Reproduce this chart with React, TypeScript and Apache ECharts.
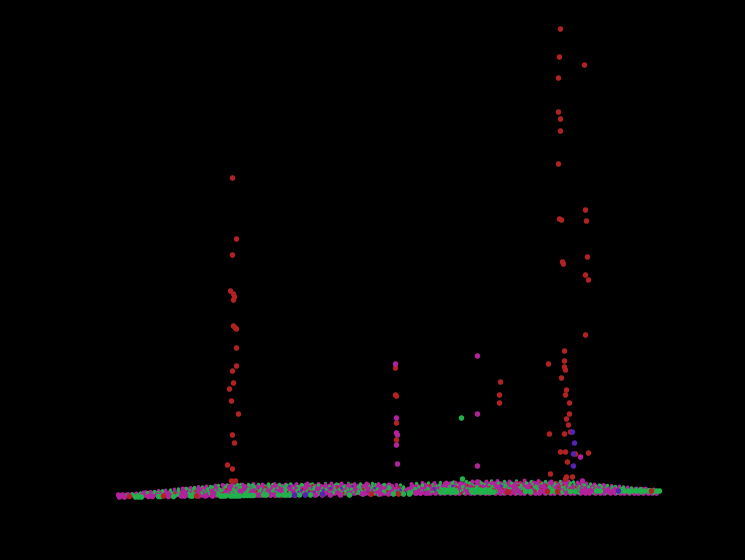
import React, { useEffect, useRef } from "react";
import * as echarts from "echarts";

const RED = "#b22222";
const MAGENTA = "#b2229b";
const GREEN = "#22b24c";
const BLUE = "#5522b2";

// Isolated points, [x, y]
const redPoints = [
  [460,481],[459,453],[484,445],[458,432],[458,398],[460,391],[460,379],[458,346],[459,291],[461,290],[485,300],[486,289],
  [462,248],[463,246],[487,253],[485,235],[488,230],[485,175],[464,159],[448,146],[464,149],[464,143],[465,140],[461,132],
  [466,120],[465,115],[469,107],[469,96],[466,91],[468,85],[449,76],[464,76],[470,78],[460,58],[465,58],[475,56],[488,57],
  [467,48],[450,36],[466,33],[465,31],[472,33],
  [132,332],[136,271],[132,255],[130,219],[133,216],[134,213],[133,210],[133,184],[135,182],[136,181],[136,162],[136,144],
  [132,139],[133,127],[129,121],[131,109],[138,96],[132,75],[134,67],[127,45],[132,41],[131,29],[135,29],
  [295,142],[295,115],[296,114],[296,87],[296,70],
  [400,128],[399,115],[399,107],
];
const magentaPoints = [
  [295,146],[296,92],[296,77],[297,75],[296,65],[297,46],[377,154],[377,96],[377,44],[377,28],[480,53],[482,29],
];
const greenPoints = [[361,92],[362,31]];
const bluePoints = [[472,78],[474,67],[473,56],[473,44]];

// Dots along the lower edge of the dense band, [x, y]
const edgeGreen = [
  [35,13],[38,13],[41,13],[58,13.5],[60,13.5],[73,13.5],[90,14],[92,14],[120,14],[122,14],[125,14],[130,14],[133,14],[136,14],[139,14],
  [144,14.5],[147,14.5],[150,14.5],[153,14.5],[163,15],[166,15],[178,15],[183,15],[186,15],[189,15],[199,15],[210,15],[249,15],[293,16],[303,16],[309,16],
  [310,17],[340,18],[343,18],[346,18],[350,18],[353,18],[356,18],[372,18],[375,18],[378,18],[381,18],[384,18],[387,18],[390,18],[393,18],
  [344,20],[348,20],[352,20],[372,20],[376,20],[380,20],[385,20],[389,20],
  [520,19],[524,19],[528,19],[532,19],[536,19],[540,19],[544,19],[548,19],[552,19],[556,19],[559,19],[500,19],[496,19],[425,18.5],[430,18.5],[450,18.5],[455,18.5],[470,18.5],[475,18.5],
];
const edgeMagenta = [
  [19,13],[24,13],[48,13.5],[52,13.5],[68,13.5],[81,14],[84,14],[98,14],[105,14],[112,14],[142,14.5],[158,15],[170,15],[175,15],[194,15],[215,15],[222,15],[230,15],[240,15],
  [262,16],[270,16],[280,16],[288,16],[315,17],[320,17],[327,17],[400,18.5],[405,18.5],[412,18.5],[418,18.5],[440,18.5],[444,18.5],
  [482,19],[485,19],[490,19],[494,19],[505,19],[508,19],[513,19],[528,19],[533,19],[543,19],
];
const edgeRed = [[29,13.5],[63,14],[96,14],[271,16],[298,16],[408,18],[447,18.5],[457,18.5],[551,19],[407,18]];
const edgeBlue = [[194,15],[205,15],[222,16],[518,19]];

// Dense band, in rows: [y, x values]
const bandBaseRows: [number, number[]][] = [
  [15,[18,22,27,31,35,40,44,48,53,58,62,66,71,75,80,84,88,93,98,102,107,111,116,120,125,130,135,139,144,150,155,160,165,170,175,180,185,190,195]],
  [17,[45,50,54,60,65,69,75,80,84,90,95,100,104,110,115,119,125,130,134,140,145,150,154,160,165,169,175,180,184,190,195,200,204,210,215,219,225,230,234,240,245,250,254,260,265,269,275,280,284,290,295,299,316,320,325,330,335,340,344,350,355,359,365,370,374,380,385,389,395,400,404,410,415,420,424,430,435,439,445,450,454,460,465,470,474,480,485,489,495,500,504,510,515,520,524,529,534,538,543,548,552,556]],
  [20.5,[85,90,94,99,104,109,113,118,123,128,132,137,142,147,151,156,161,166,170,175,180,185,189,194,199,204,208,213,218,223,227,232,237,242,246,251,256,261,265,270,275,280,284,289,294,299,303,308,313,318,322,327,332,337,341,346,351,356,360,365,370,375,379,384,389,394,398,403,408,413,417,422,427,432,436,441,446,451,455,460,465,470,474,479,484,489,493,498,503,508,512,517,522,527,531,536,541,545]],
  [23.5,[125,130,134,139,144,149,153,158,163,168,172,177,182,187,191,196,201,206,210,215,220,225,229,234,239,244,248,253,258,263,267,272,277,282,286,291,312,317,322,327,331,336,341,346,350,355,360,365,369,374,379,384,388,393,398,403,407,412,417,422,426,431,436,441,445,450,455,460,464,469,474,478,482,486,491,495,500,504]],
  [26,[345,350,355,360,365,370,380,385,390,395,400,405,410,415,420,425,430,435,440,445,450,455,460,465]],
];
const topFringeMagenta = [
  [21,15],[28,15.5],[36,16.5],[43,17.5],[50,18],[58,19],[65,19.5],[74,20.5],[82,21.5],[90,22],[98,23],[106,23.5],[115,24.5],[122,25],[132,25.5],[142,25.5],[153,26],[162,25.5],[174,26],[185,25.5],[196,26],[207,26.5],[218,26],[231,26.5],[241,26.5],[254,26],[266,26.5],[278,26],[289,25.5],[296,25],[311,26],[322,27],[334,27],[346,27.5],[372,28.5],[386,28.5],[397,29],[409,28.5],[424,29.5],[438,29],[451,28.5],[468,28.5],[477,27.5],[486,26.5],[494,25.5],[503,25],[511,24],[519,23.5],[527,22.5],[536,21.5],[545,21],[553,20.5],
];
const topFringeGreen = [
  [25,14.5],[32,16],[40,17],[47,17.5],[54,18.5],[62,19],[70,20],[78,21],[86,21.5],[94,22.5],[102,23],[110,23.5],[118,24.5],[127,25],[137,25.5],[148,25.5],[158,25.5],[168,26],[179,25.5],[190,26],[201,25.5],[212,26],[225,26.5],[236,26],[248,26.5],[260,26],[272,26.5],[284,25.5],[316,26.5],[328,27],[340,27.5],[353,28],[366,28.5],[379,28.5],[391,29],[404,28.5],[416,29],[431,28.5],[445,28.5],[460,28.5],[473,28],[482,27],[490,26],[499,25],[507,24.5],[515,23.5],[523,23],[531,22],[540,21.5],[549,20.5],
];
const bandGreenRows: [number, number[]][] = [
  [15,[33,47,61,77,91,104,117,128,137,148,160,171,183,192,204,217,229,241,250,263,278]],
  [17,[55,73,88,101,118,127,136,144,158,166,175,189,196,208,221,233,244,258,272,286,297,328,341,352,363,372,382,392,403,417,431,446,462,478,493,506,517,529,541,553]],
  [19,[62,78,95,108,121,134,147,159,172,185,196,207,220,232,245,258,269,283,295,307,321,333,345,351,361,370,377,387,396,402,414,426,438,447,461,474,486,495,507,519,527,537,548]],
  [21,[93,107,119,133,148,160,173,186,199,213,226,239,251,264,277,288,302,315,328,342,356,368,377,385,393,410,423,437,452,468,482,497,511,523,535]],
  [23,[112,125,140,154,169,184,199,214,229,243,258,272,288,303,318,333,349,362,376,390,404,419,434,449,462,475,488,501,512]],
  [25,[137,152,168,186,202,218,235,251,268,283,300,322,339,356,372,389,405,421,437,453,469,484]],
  [27,[352,369,381,398,411,426,441,455,470]],
];
const bandMagentaRows: [number, number[]][] = [
  [16,[41,56,69,86,99,113,129,143,155,167,181,198,212,224,237,252,266,281,300]],
  [18,[66,83,97,112,126,141,153,168,182,194,211,226,236,249,265,277,291,325,338,348,362,389,405,419,434,451,467,480,498,512]],
  [20,[82,98,110,127,139,152,167,179,191,204,218,231,242,255,268,279,292,306,318,331,344,358,367,381,399,412,431,443,459,472,488,502,515,530,543]],
  [22,[103,116,130,145,158,171,188,201,216,228,241,254,266,282,296,309,322,334,348,359,373,388,401,416,429,443,458,471,485,499,514,527]],
  [24,[128,143,157,174,190,205,221,236,251,266,281,316,329,342,355,371,384,399,413,428,442,458,472]],
  [26,[205,225,248,268,288,325,345,360,377,391,408,423,437,452,466,479]],
  [28,[355,373,392,416,433,449,462]],
];
const bandGreenFineRows: [number, number[]][] = [
  [16,[37,52,79,94,109,123,132,141,151,164,178,186,193,207,218,243,256,274,290]],
  [18,[58,71,92,105,117,131,146,163,176,189,203,216,229,241,253,262,284,300,330,344,355,371,380,396,411,425,441,457,472,491,505,520,534,547]],
  [20,[89,103,115,122,136,156,164,184,197,210,224,235,248,261,274,286,299,312,325,337,352,362,374,391,407,421,436,450,465,479,493,508,522,538]],
  [22,[110,124,138,151,165,177,193,209,222,234,247,260,271,290,303,314,327,340,354,366,379,393,408,422,436,451,464,478,492,505,520]],
  [24,[134,149,165,181,197,213,229,244,259,274,289,322,336,349,363,377,392,406,420,435,449,464,479,495]],
  [26,[140,172,210,238,275,332,351,367,384,402,418,432,447,461,474]],
];
const bandRedRows: [number, number[]][] = [
  [17,[74,122,188,243,361,404,428]],
  [19,[95,156,209,287,341,395,410,416,422,435,448]],
  [21,[126,202,263,348,385,393,403,441,469]],
  [23,[165,237,298,356,372,380,389,431,458,475]],
  [25,[212,329,367,418,446,463]],
  [28,[420,440,456]],
];
const bandBlueRows: [number, number[]][] = [
  [18,[198,208,214,268,296,325]],
  [20,[201,223,300,334]],
  [22,[230,241,274,333]],
  [24,[189,252,352,401]],
];

const rowsToPairs = (rows: [number, number[]][]) =>
  rows.flatMap(([y, xs]) => xs.map((x) => [x, y]));

const scatter = (data: number[][], color: string, size: number) => ({
  type: "scatter",
  data,
  symbol: "circle",
  symbolSize: size,
  itemStyle: { color, opacity: 1 },
  silent: true,
});

export default function App() {
  const ref = useRef<HTMLDivElement>(null);
  useEffect(() => {
    document.body.style.margin = "0";
    document.body.style.background = "#000";
    const chart = echarts.init(ref.current!, undefined, { renderer: "svg" });
    chart.setOption({
      animation: false,
      backgroundColor: "#000",
      grid: { left: 100.5, right: 64.5, top: 10, bottom: 50 },
      xAxis: { type: "value", min: 0, max: 580, show: false },
      yAxis: { type: "value", min: 0, max: 500, show: false },
      series: [
        scatter(rowsToPairs(bandBaseRows), MAGENTA, 5.5),
        scatter(topFringeMagenta, MAGENTA, 4),
        scatter(topFringeGreen, GREEN, 3.5),
        scatter(rowsToPairs(bandGreenRows), GREEN, 3.5),
        scatter(rowsToPairs(bandMagentaRows), MAGENTA, 3),
        scatter(rowsToPairs(bandGreenFineRows), GREEN, 2.5),
        scatter(rowsToPairs(bandRedRows), RED, 2.5),
        scatter(rowsToPairs(bandBlueRows), BLUE, 2.5),
        scatter(edgeMagenta, MAGENTA, 5.5),
        scatter(edgeGreen, GREEN, 5.5),
        scatter(edgeRed, RED, 5.5),
        scatter(edgeBlue, BLUE, 5.5),
        scatter(redPoints, RED, 5.5),
        scatter(bluePoints, BLUE, 5.5),
        scatter(magentaPoints, MAGENTA, 5.5),
        scatter(greenPoints, GREEN, 5.5),
      ],
    });
    return () => chart.dispose();
  }, []);
  return <div ref={ref} style={{ width: 745, height: 560 }} />;
}
